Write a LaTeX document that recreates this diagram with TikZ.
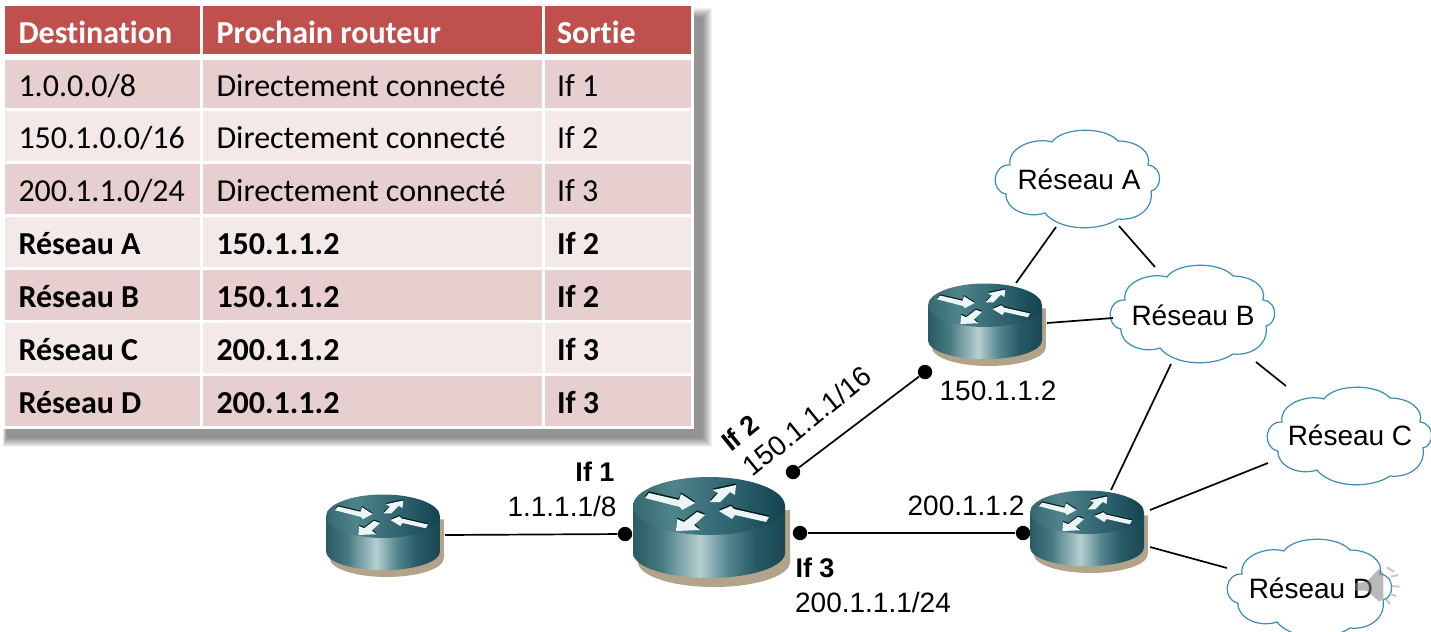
\documentclass[tikz,border=0pt]{standalone}
\usepackage{fontspec}
\setmainfont{Liberation Sans}
\newfontfamily\tblfont[Ligatures=NoCommon]{Carlito}
\usetikzlibrary{calc}
\definecolor{hdr}{HTML}{C0504D}
\definecolor{rowa}{HTML}{E7CFCF}
\definecolor{rowb}{HTML}{F4E9E9}
\definecolor{cloudline}{HTML}{3C8DB8}
\definecolor{rtan}{HTML}{B3A389}
\definecolor{rside1}{HTML}{2A5A64}
\definecolor{rside2}{HTML}{457880}
\definecolor{rside3}{HTML}{B6CFD0}
\definecolor{rside4}{HTML}{558690}
\definecolor{rside5}{HTML}{275A65}
\definecolor{rside6}{HTML}{1A4753}
\definecolor{rtop1}{HTML}{36686F}
\definecolor{rtop2}{HTML}{4F848B}
\definecolor{rtop3}{HTML}{2A5F6B}
\definecolor{rtop4}{HTML}{12424F}
\pgfdeclarehorizontalshading{routerside}{100bp}{color(0bp)=(rside1); color(25bp)=(rside1); color(34bp)=(rside2); color(47bp)=(rside3); color(56bp)=(rside4); color(65bp)=(rside5); color(75bp)=(rside6); color(100bp)=(rside6)}
\pgfdeclarehorizontalshading{routertop}{100bp}{color(0bp)=(rtop1); color(25bp)=(rtop1); color(38bp)=(rtop2); color(60bp)=(rtop3); color(75bp)=(rtop4); color(100bp)=(rtop4)}
\tikzset{
  cell/.style={rectangle,anchor=north west,inner sep=0pt,outer sep=0pt,font=\tblfont\fontsize{16}{18}\selectfont,text depth=0pt},
  headcell/.style={cell,fill=hdr,text=white,font=\tblfont\bfseries\fontsize{16}{18}\selectfont},
  label/.style={inner sep=0pt,font=\fontsize{14}{16}\selectfont},
  blabel/.style={inner sep=0pt,font=\bfseries\fontsize{13.5}{16}\selectfont},
  dotnode/.style={circle,fill=black,inner sep=0pt,minimum size=7.2pt},
  link/.style={draw=black,line width=0.85pt},
  routerbox/.style={rectangle,inner sep=0pt,minimum width=#1,minimum height=#1},
  cloudtext/.style={inner sep=0pt,font=\fontsize{14}{16}\selectfont},
}
\newcommand\cellbox[8][13.5]{% offset, name, style, x0, y0, w, h, text
  \node[#3,minimum width=#6*0.5pt,minimum height=#7*0.5pt] (#2) at (#4,#5) {};
  \node[#3,fill=none,anchor=west] at ($(#2.west)+(#1,-0.5)$) {\strut #8};
}
\newcommand\headbox[7][13.5]{%
  \node[headcell,minimum width=#5*0.5pt,minimum height=#6*0.5pt] (#2) at (#3,#4) {};
  \node[headcell,fill=none,anchor=west] at ($(#2.west)+(#1,1)$) {\strut #7};
}
\newcommand\rarrow[1]{%
  \fill[black!80!teal] [shift={(0,-1.6)}] #1;
  \fill[white!92!teal] #1;
}
\newcommand\routerdraw[3]{%
  \begin{scope}[shift={(#1,#2)},scale=#3]
    \fill[rtan] (-71,9) -- (-71,59) arc[start angle=180,end angle=0,x radius=76,y radius=25] -- (81,7) -- cycle;
    \shade[shading=routerside] (-76,3) -- (-76,50) arc[start angle=180,end angle=0,x radius=76,y radius=25] -- (76,3) -- cycle;
    \shade[shading=routertop,shading angle=0] (0,3) ellipse[x radius=76,y radius=29];
    \rarrow{(-64,-5) -- (-60,-10) -- (-30,-3) -- (-28,-9) -- (-14,0) -- (-27,7) -- (-29,4) -- cycle}
    \rarrow{(1,-1) -- (9,-10) -- (4,-13) -- (27,-18) -- (26,-8) -- (21,-11) -- (11,-1) -- cycle}
    \rarrow{(60,14) -- (57,19) -- (26,12) -- (23,16) -- (10,8) -- (22,3) -- (25,6) -- cycle}
    \rarrow{(-33,28) -- (-32,16) -- (-25,19) -- (-12,9) -- (-4,12) -- (-15,22) -- (-9,27) -- cycle}
  \end{scope}}
\newcommand\clouddraw[2]{%
  \begin{scope}[shift={(#1,#2)}]
    \draw[cloudline,line width=0.6pt,fill=white]
      (-71,15) .. controls (-87,12) and (-85,-15) .. (-67,-14)
      .. controls (-70,-32) and (-42,-42) .. (-25,-37)
      .. controls (-15,-52) and (28,-53) .. (41,-38)
      .. controls (60,-38) and (75,-27) .. (71,-14)
      .. controls (87,-12) and (85,10) .. (74,12)
      .. controls (77,30) and (60,42) .. (41,40)
      .. controls (22,53) and (-18,52) .. (-32,34)
      .. controls (-50,40) and (-72,30) .. (-71,15) -- cycle;
  \end{scope}}
\begin{document}
\begin{tikzpicture}[x=0.5pt,y=-0.5pt]
\useasboundingbox (0,0) rectangle (1431,632);
\clip (0,0) rectangle (1431,632);
\fill[white] (0,0) rectangle (1431,632);
% table shadow
\foreach \i in {0,...,9}{
  \fill[black,opacity=0.05] (3+\i*0.4,8+\i) rectangle (712-\i,447-\i);
}
\fill[white] (0,3) rectangle (694,429);
% table
\headbox{h1}{5}{6}{195}{48}{Destination}
\headbox{h2}{203}{6}{339}{48}{Prochain routeur}
\headbox[12]{h3}{545}{6}{146}{48}{Sortie}
\cellbox{a1}{cell,fill=rowa}{5}{60}{195}{48}{1.0.0.0/8}
\cellbox{a2}{cell,fill=rowa}{203}{60}{339}{48}{Directement connecté}
\cellbox[12]{a3}{cell,fill=rowa}{545}{60}{146}{48}{If 1}
\cellbox{b1}{cell,fill=rowb}{5}{111}{195}{50}{150.1.0.0/16}
\cellbox{b2}{cell,fill=rowb}{203}{111}{339}{50}{Directement connecté}
\cellbox[12]{b3}{cell,fill=rowb}{545}{111}{146}{50}{If 2}
\cellbox{c1}{cell,fill=rowa}{5}{164}{195}{50}{200.1.1.0/24}
\cellbox{c2}{cell,fill=rowa}{203}{164}{339}{50}{Directement connecté}
\cellbox[12]{c3}{cell,fill=rowa}{545}{164}{146}{50}{If 3}
\cellbox{d1c}{cell,fill=rowb}{5}{217}{195}{50}{\textbf{Réseau A}}
\cellbox{d2c}{cell,fill=rowb}{203}{217}{339}{50}{\textbf{150.1.1.2}}
\cellbox[12]{d3c}{cell,fill=rowb}{545}{217}{146}{50}{\textbf{If 2}}
\cellbox{e1}{cell,fill=rowa}{5}{270}{195}{50}{\textbf{Réseau B}}
\cellbox{e2}{cell,fill=rowa}{203}{270}{339}{50}{\textbf{150.1.1.2}}
\cellbox[12]{e3}{cell,fill=rowa}{545}{270}{146}{50}{\textbf{If 2}}
\cellbox{f1}{cell,fill=rowb}{5}{323}{195}{50}{\textbf{Réseau C}}
\cellbox{f2}{cell,fill=rowb}{203}{323}{339}{50}{\textbf{200.1.1.2}}
\cellbox[12]{f3}{cell,fill=rowb}{545}{323}{146}{50}{\textbf{If 3}}
\cellbox{g1}{cell,fill=rowa}{5}{376}{195}{50}{\textbf{Réseau D}}
\cellbox{g2}{cell,fill=rowa}{203}{376}{339}{50}{\textbf{200.1.1.2}}
\cellbox[12]{g3}{cell,fill=rowa}{545}{376}{146}{50}{\textbf{If 3}}
% routers
\routerdraw{383}{514}{0.75}
\routerdraw{709}{503}{1}
\routerdraw{985}{303}{0.75}
\routerdraw{1087}{510}{0.75}
\node[routerbox=40pt] (rleft) at (383,534) {};
\node[routerbox=50pt] (rmain) at (709,528) {};
\node[routerbox=40pt] (rtop) at (985,322) {};
\node[routerbox=40pt] (rright) at (1087,530) {};
% clouds
\clouddraw{1077}{179}
\clouddraw{1192}{314}
\clouddraw{1349}{436}
\clouddraw{1309}{588}
\node[cloudtext] (ca) at (1079,179) {Réseau A};
\node[cloudtext] (cb) at (1193,315) {Réseau B};
\node[cloudtext] (cc) at (1350,435) {Réseau C};
\node[cloudtext] (cd) at (1311,588) {Réseau D};
% dots
\node[dotnode] (d1) at (625,534) {};
\node[dotnode] (d2) at (793,472) {};
\node[dotnode] (d2b) at (925,372) {};
\node[dotnode] (d3) at (800,533) {};
\node[dotnode] (d3b) at (1023,533) {};
% free ends
\coordinate (p0) at (445,535);
\coordinate (p1a) at (1016,283); \coordinate (p1b) at (1056,227);
\coordinate (p2a) at (1119,226); \coordinate (p2b) at (1155,267);
\coordinate (p3a) at (1047,323); \coordinate (p3b) at (1113,318);
\coordinate (p4a) at (1256,362); \coordinate (p4b) at (1286,386);
\coordinate (p5a) at (1171,364); \coordinate (p5b) at (1111,490);
\coordinate (p6a) at (1150,510); \coordinate (p6b) at (1268,463);
\coordinate (p7a) at (1150,547); \coordinate (p7b) at (1227,568);
\draw[link] (p0) -- (d1);
\draw[link] (d2) -- (d2b);
\draw[link] (d3) -- (d3b);
\draw[link] (p1a) -- (p1b);
\draw[link] (p2a) -- (p2b);
\draw[link] (p3a) -- (p3b);
\draw[link] (p4a) -- (p4b);
\draw[link] (p5a) -- (p5b);
\draw[link] (p6a) -- (p6b);
\draw[link] (p7a) -- (p7b);
% labels
\node[blabel] (l1) at (595,472) {If 1};
\node[label] (l2) at (562,506) {1.1.1.1/8};
\node[blabel,rotate=39] (l3) at (740,433) {If 2};
\node[label,rotate=39] (l4) at (807,421) {150.1.1.1/16};
\node[blabel] (l5) at (815,568) {If 3};
\node[label] (l6) at (873,602) {200.1.1.1/24};
\node[label] (l7) at (966,506) {200.1.1.2};
\node[label] (l8) at (998,391) {150.1.1.2};
% speaker icon
\begin{scope}[shift={(1220,530)},x=0.1667pt,y=-0.1667pt]
  \fill[gray,opacity=0.55] (405,160) -- (440,155) -- (478,115) -- (490,130) -- (490,205) -- (478,215) -- (440,182) -- (405,182) -- cycle;
  \draw[gray!60,line width=1pt,opacity=0.7] (500,112) -- (522,125) (512,140) -- (535,135) (515,168) -- (538,170) (510,192) -- (528,198) (498,208) -- (510,222);
\end{scope}
\end{tikzpicture}
\end{document}
